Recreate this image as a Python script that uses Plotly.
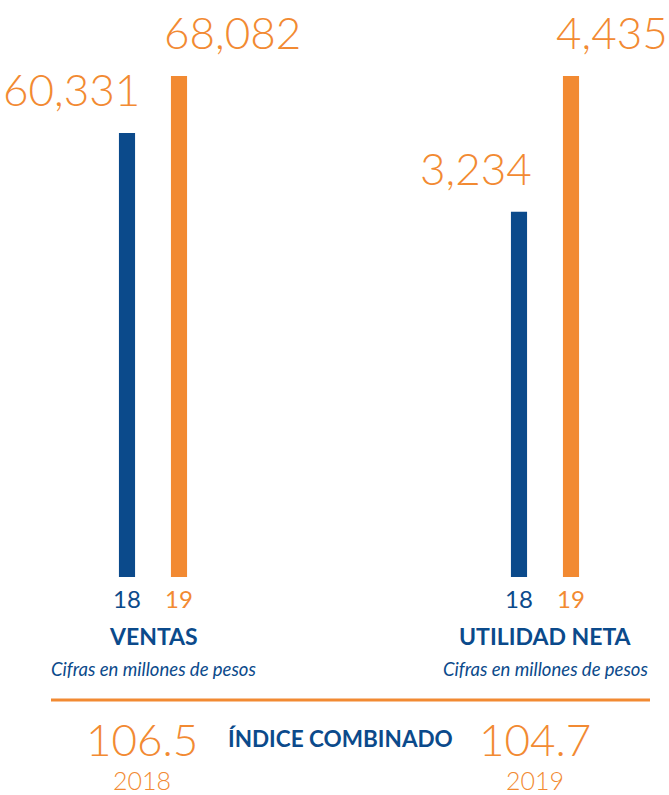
import plotly.graph_objects as go

# ---- data ----
years = ["18", "19"]
ventas = [60331, 68082]
utilidad = [3234, 4435]
group_titles = ["VENTAS", "UTILIDAD NETA"]
subtitle = "Cifras en millones de pesos"
index_title = "ÍNDICE COMBINADO"
index_values = [106.5, 104.7]
index_years = ["2018", "2019"]

# ---- style ----
BLUE = "#0b4a8b"
ORANGE = "#f28a32"
W, H = 669, 795
FONT = "Lato"


def px(x):
    return x / W


def py(y):
    return 1 - y / H


bar_colors = [BLUE, ORANGE]
series = [ventas, utilidad]
xdomains = [[px(101), px(205)], [px(493), px(597)]]
BAR_BOTTOM, BAR_TOP = 577, 76

fig = go.Figure()
annotations = []
for i, vals in enumerate(series):
    xa = "x" if i == 0 else "x2"
    ya = "y" if i == 0 else "y2"
    fig.add_trace(go.Bar(
        x=years, y=vals, xaxis=xa, yaxis=ya,
        marker=dict(color=bar_colors, line=dict(width=0)),
        width=0.31, showlegend=False, hoverinfo="x+y",
    ))
    for j, v in enumerate(vals):
        annotations.append(dict(
            x=j, y=v, xref=xa, yref=ya,
            text=f"{v:,}", showarrow=False,
            xanchor="right" if j == 0 else "left",
            xshift=15 if j == 0 else -17,
            yanchor="bottom", yshift=16,
            font=dict(family=FONT, size=44, color=ORANGE, weight=300),
        ))
    annotations.append(dict(
        x=0.5, y=py(636), xref=f"{xa} domain", yref="paper",
        text=f"<b>{group_titles[i]}</b>", showarrow=False,
        xanchor="center", yanchor="middle",
        font=dict(family=FONT, size=23, color=BLUE),
    ))
    annotations.append(dict(
        x=0.5, y=py(669), xref=f"{xa} domain", yref="paper",
        text=f"<i>{subtitle}</i>", showarrow=False,
        xanchor="center", yanchor="middle",
        font=dict(family=FONT, size=18.5, color=BLUE),
    ))

ticktext = [f'<span style="color:{c}">{y}</span>' for y, c in zip(years, bar_colors)]

axis_common = dict(type="category", range=[-0.5, 1.5], showgrid=False,
                   zeroline=False, showline=False, ticks="",
                   tickvals=years, ticktext=ticktext,
                   tickfont=dict(family=FONT, size=24, color=BLUE, weight=400),
                   fixedrange=True)

layout_axes = {}
for i, vals in enumerate(series):
    xk = "xaxis" if i == 0 else "xaxis2"
    yk = "yaxis" if i == 0 else "yaxis2"
    xd = dict(axis_common, domain=xdomains[i])
    if i == 1:
        xd["anchor"] = "y2"
    layout_axes[xk] = xd
    scale = BAR_BOTTOM / (BAR_BOTTOM - BAR_TOP)
    yd = dict(domain=[py(BAR_BOTTOM), 1], range=[0, max(vals) * scale],
              visible=False, fixedrange=True)
    if i == 1:
        yd["anchor"] = "x2"
    layout_axes[yk] = yd

# bottom index section
idx_x = [142, 535]
for v, yr, cx in zip(index_values, index_years, idx_x):
    annotations.append(dict(
        x=px(cx), y=py(739), xref="paper", yref="paper", text=f"{v}",
        showarrow=False, xanchor="center", yanchor="middle",
        font=dict(family=FONT, size=44, color=ORANGE, weight=300),
    ))
    annotations.append(dict(
        x=px(cx), y=py(780), xref="paper", yref="paper", text=yr,
        showarrow=False, xanchor="center", yanchor="middle",
        height=26, borderpad=0,
        font=dict(family=FONT, size=25, color=ORANGE, weight=300),
    ))
annotations.append(dict(
    x=px(341), y=py(738), xref="paper", yref="paper",
    text=f"<b>{index_title}</b>", showarrow=False,
    xanchor="center", yanchor="middle",
    font=dict(family=FONT, size=22.5, color=BLUE),
))

fig.update_layout(
    width=W, height=H, autosize=False,
    margin=dict(l=0, r=0, t=0, b=0),
    paper_bgcolor="white", plot_bgcolor="white",
    annotations=annotations,
    shapes=[dict(type="line", xref="paper", yref="paper",
                 x0=px(51), x1=px(650), y0=py(700), y1=py(700),
                 line=dict(color=ORANGE, width=3))],
    **layout_axes,
)
fig.update_xaxes(ticklabelstandoff=6)

fig.write_html("out.html",
               config={"displayModeBar": False},
               post_script="document.body.style.margin='0';")
